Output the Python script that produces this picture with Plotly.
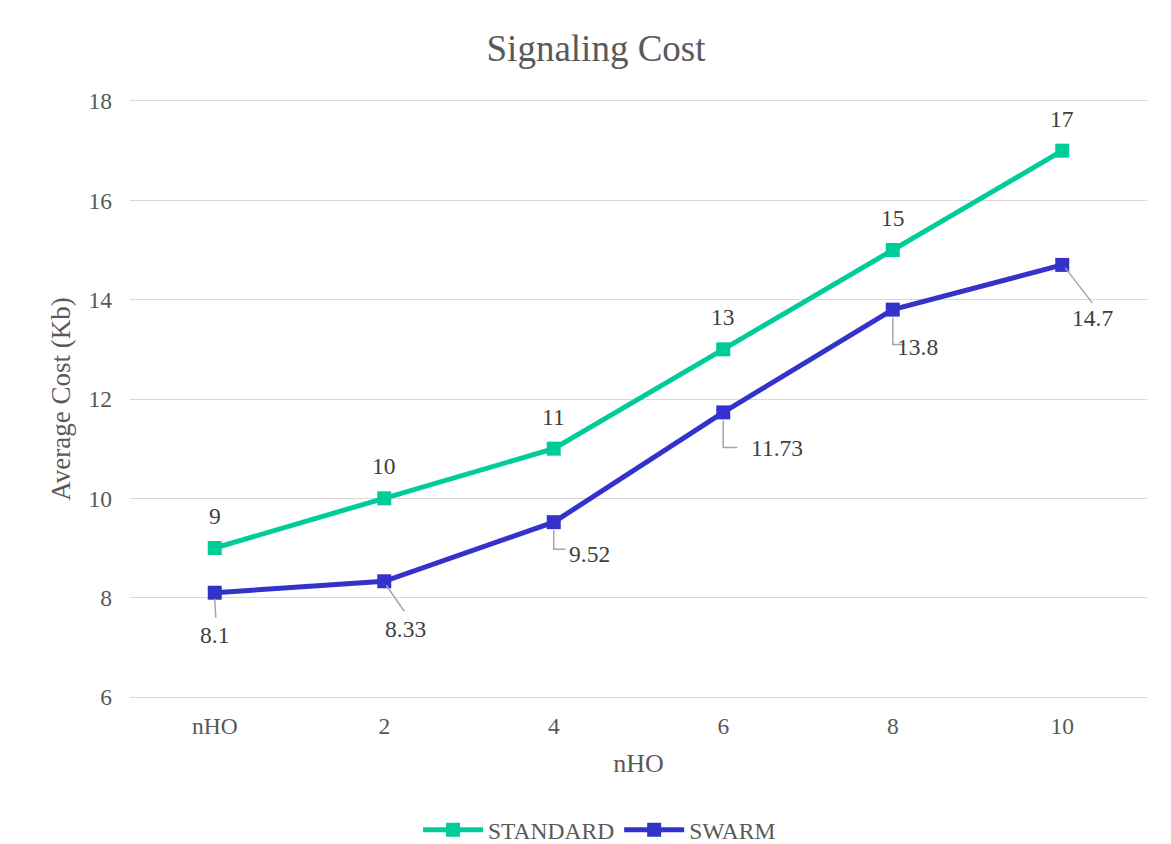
import plotly.graph_objects as go

categories = ["nHO", "2", "4", "6", "8", "10"]
standard = [9, 10, 11, 13, 15, 17]
swarm = [8.1, 8.33, 9.52, 11.73, 13.8, 14.7]
standard_labels = ["9", "10", "11", "13", "15", "17"]
swarm_labels = ["8.1", "8.33", "9.52", "11.73", "13.8", "14.7"]

GREEN = "#00CC99"
BLUE = "#3333CC"
FONT = "Liberation Serif"
TXT = "#595959"
LBL = "#404040"

fig = go.Figure()
fig.add_trace(go.Scatter(x=categories, y=standard, mode="lines+markers", name="STANDARD",
                         line=dict(color=GREEN, width=5),
                         marker=dict(symbol="square", size=14, color=GREEN),
                         cliponaxis=False))
fig.add_trace(go.Scatter(x=categories, y=swarm, mode="lines+markers", name="SWARM",
                         line=dict(color=BLUE, width=5),
                         marker=dict(symbol="square", size=14, color=BLUE),
                         cliponaxis=False))

annotations = []
for i, (v, t) in enumerate(zip(standard, standard_labels)):
    annotations.append(dict(x=i, y=v, text=t, showarrow=False, yshift=32,
                            font=dict(family=FONT, size=23.5, color=LBL)))

# SWARM label offsets (pixels) and leader-line paths
offs = [(0, -42), (21, -48), (36, -32), (54, -36), (25, -37), (30, -53)]
paths = [
    "M 0 -6 L 1 -25",
    "M 2 -4 L 20 -30",
    "M 0 -8 V -27 H 12",
    "M 0 -8 V -35 H 14",
    "M 0 -8 V -35 H 12",
    "M 3 -3 L 30 -38",
]
shapes = []
for i, (v, t, (dx, dy), p) in enumerate(zip(swarm, swarm_labels, offs, paths)):
    annotations.append(dict(x=i, y=v, text=t, showarrow=False, xshift=dx, yshift=dy,
                            font=dict(family=FONT, size=23.5, color=LBL)))
    shapes.append(dict(type="path", xref="x", yref="y", xsizemode="pixel", ysizemode="pixel",
                       xanchor=i, yanchor=v, path=p,
                       line=dict(color="#A6A6A6", width=1.5)))

fig.update_layout(
    width=1171, height=844,
    margin=dict(l=130, r=24, t=101, b=147, autoexpand=False),
    paper_bgcolor="white", plot_bgcolor="white",
    font=dict(family=FONT, color=TXT, size=23.5),
    title=dict(text="Signaling Cost", x=0.509, xanchor="center", y=0.943, yanchor="middle",
               font=dict(family=FONT, size=37, color=TXT)),
    xaxis=dict(type="category", range=[-0.5, 5.5], showgrid=False, zeroline=False,
               showline=True, mirror=True, linecolor="#D9D9D9", linewidth=1.3,
               ticks="", tickfont=dict(family=FONT, size=23.5, color=TXT),
               ticklabelstandoff=8,
               title=dict(text="nHO", font=dict(family=FONT, size=26, color=TXT), standoff=15)),
    yaxis=dict(range=[6, 18], dtick=2, showgrid=True,
               gridcolor="#D9D9D9", gridwidth=1.3,
               zeroline=False, showline=False, ticks="", tickfont=dict(family=FONT, size=23.5, color=TXT),
               ticklabelstandoff=17,
               title=dict(text="Average Cost (Kb)", font=dict(family=FONT, size=27, color=TXT), standoff=10)),
    legend=dict(orientation="h", xref="container", x=0.512, xanchor="center",
                yref="container", y=0.0166, yanchor="middle",
                font=dict(family=FONT, size=23.5, color=TXT), itemwidth=60),
    annotations=annotations, shapes=shapes,
)

fig.write_html("out.html")
